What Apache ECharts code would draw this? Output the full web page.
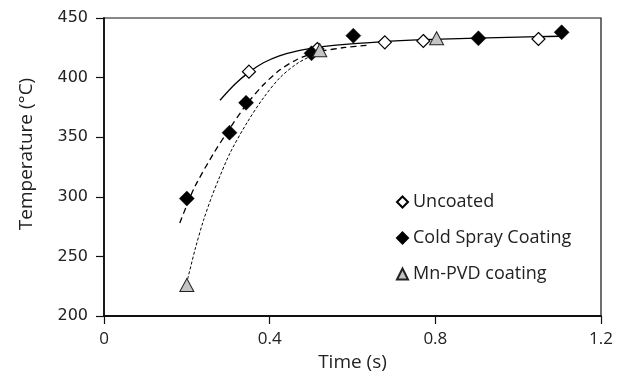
<!DOCTYPE html>
<html>
<head>
<meta charset="utf-8">
<script src="https://cdn.jsdelivr.net/npm/echarts@6/dist/echarts.min.js"></script>
<style>html,body{margin:0;padding:0;background:#fff;}#c{width:630px;height:383px;}</style>
</head>
<body>
<div id="c"></div>
<script>
// Measured points
const uncoatedTime = [0.35, 0.515, 0.678, 0.771, 1.049];
const uncoatedTemp = [405, 424, 429.6, 430.7, 432.4];
const coldTime = [0.20, 0.303, 0.343, 0.501, 0.602, 0.904, 1.105];
const coldTemp = [298.5, 353.8, 378.9, 420.4, 435.2, 433, 438];
const pvdTime = [0.20, 0.521, 0.803];
const pvdTemp = [226, 423, 433];

// Fitted curves
const fitUncoatedTime = [0.280, 0.316, 0.352, 0.385, 0.425, 0.465, 0.505, 0.554, 0.674, 0.771, 0.900, 1.049, 1.100];
const fitUncoatedTemp = [381.0, 394.5, 405.0, 412.5, 418.5, 422.3, 424.8, 427.0, 430.2, 431.8, 433.2, 434.3, 434.7];
const fitColdTime = [0.183, 0.200, 0.220, 0.264, 0.303, 0.343, 0.385, 0.425, 0.465, 0.501, 0.521, 0.582, 0.642];
const fitColdTemp = [278.0, 293.0, 309.0, 336.0, 357.0, 377.0, 394.0, 406.5, 415.0, 420.0, 422.0, 425.3, 427.3];
const fitPvdTime = [0.202, 0.220, 0.240, 0.260, 0.276, 0.304, 0.345, 0.385, 0.425, 0.465, 0.505, 0.525];
const fitPvdTemp = [231.0, 256.0, 280.0, 300.0, 314.0, 336.5, 362.0, 383.0, 400.0, 411.5, 419.0, 422.0];

const xTicks = [0, 0.4, 0.8, 1.2];
const yTicks = [200, 250, 300, 350, 400, 450];

const zip = (a, b) => a.map((v, i) => [v, b[i]]);

const chart = echarts.init(document.getElementById('c'), null, {renderer: 'canvas'});
chart.setOption({
  animation: false,
  backgroundColor: '#fff',
  grid: {left: 104, right: 29, top: 18, bottom: 67, show: true, borderColor: '#111', borderWidth: 1.2, backgroundColor: 'transparent'},
  xAxis: {
    type: 'value', min: xTicks[0], max: xTicks[xTicks.length - 1], interval: 0.4,
    name: 'Time (s)', nameLocation: 'middle', nameGap: 32,
    nameTextStyle: {fontFamily: 'Open Sans', fontSize: 19, color: '#222'},
    axisLine: {show: true, lineStyle: {color: '#111', width: 1.8}},
    axisTick: {show: true, inside: false, length: 8, lineStyle: {color: '#111', width: 1.2}},
    axisLabel: {fontFamily: 'Open Sans', fontSize: 17, color: '#222', margin: 15,
      formatter: v => { const t = xTicks.find(x => Math.abs(x - v) < 1e-6); return t === undefined ? '' : String(t); }},
    splitLine: {show: false}
  },
  yAxis: {
    type: 'value', min: yTicks[0], max: yTicks[yTicks.length - 1], interval: 50,
    name: 'Temperature (°C)', nameLocation: 'middle', nameGap: 68, nameRotate: 90,
    nameTextStyle: {fontFamily: 'Open Sans', fontSize: 19, color: '#222', padding: [0, 0, 0, 26]},
    axisLine: {show: true, lineStyle: {color: '#111', width: 1.8}},
    axisTick: {show: true, inside: false, length: 8, lineStyle: {color: '#111', width: 1.2}},
    axisLabel: {fontFamily: 'DejaVu Sans', fontSize: 16, color: '#222', margin: 16},
    splitLine: {show: false}
  },
  legend: {
    orient: 'vertical', left: 396, top: 192, padding: 0, itemGap: 16, itemWidth: 11, itemHeight: 11,
    textStyle: {fontFamily: 'Open Sans', fontSize: 18, color: '#222', lineHeight: 20},
    data: [
      {name: 'Uncoated', icon: 'diamond'},
      {name: 'Cold Spray Coating', icon: 'diamond'},
      {name: 'Mn-PVD coating', icon: 'triangle'}
    ]
  },
  series: [
    {type: 'line', name: 'fitU', data: zip(fitUncoatedTime, fitUncoatedTemp), smooth: 0.3, showSymbol: false, silent: true,
      lineStyle: {color: '#000', width: 1.3}, z: 2},
    {type: 'line', name: 'fitC', data: zip(fitColdTime, fitColdTemp), smooth: 0.3, showSymbol: false, silent: true,
      lineStyle: {color: '#000', width: 1.3, type: [6, 4]}, z: 2},
    {type: 'line', name: 'fitP', data: zip(fitPvdTime, fitPvdTemp), smooth: 0.3, showSymbol: false, silent: true,
      lineStyle: {color: '#000', width: 1, type: [3, 2]}, z: 2},
    {type: 'scatter', name: 'Uncoated', data: zip(uncoatedTime, uncoatedTemp), symbol: 'diamond', symbolSize: 13,
      itemStyle: {color: '#fff', borderColor: '#000', borderWidth: 1.2, opacity: 1}, z: 5},
    {type: 'scatter', name: 'Cold Spray Coating', data: zip(coldTime, coldTemp), symbol: 'diamond', symbolSize: 15,
      itemStyle: {color: '#000', borderColor: '#000', borderWidth: 0.5, opacity: 1}, z: 5},
    {type: 'scatter', name: 'Mn-PVD coating', data: zip(pvdTime, pvdTemp), symbol: 'triangle', symbolSize: [14, 13],
      itemStyle: {color: '#c4c4c4', borderColor: '#222', borderWidth: 1, opacity: 1}, z: 5}
  ]
});
</script>
</body>
</html>
